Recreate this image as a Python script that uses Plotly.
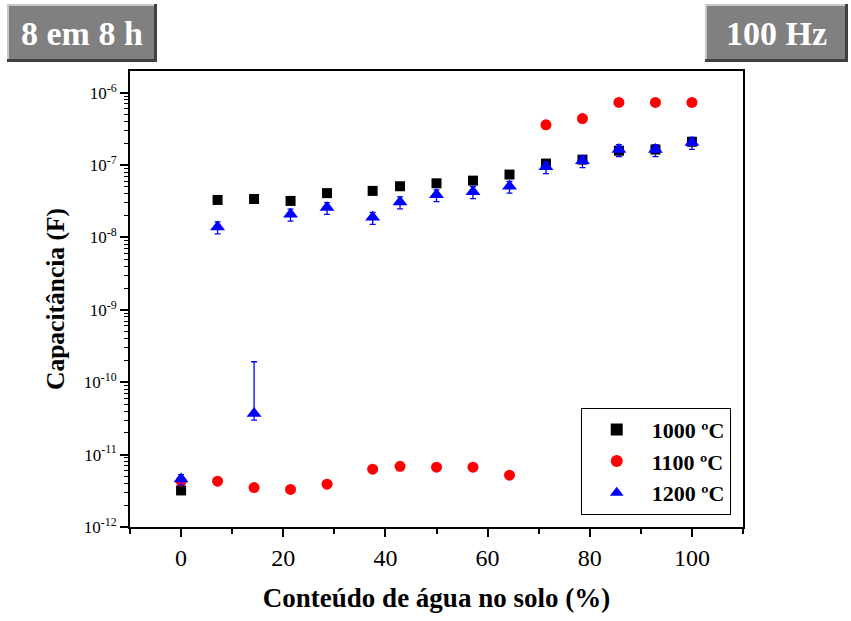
import plotly.graph_objects as go

# Soil water content (%) and measured capacitance (F) at 100 Hz
agua = [0, 7.14, 14.29, 21.43, 28.57, 37.5, 42.86, 50, 57.14, 64.29, 71.43, 78.57, 85.71, 92.86, 100]
cap_1000 = [3.2e-12, 3.3e-8, 3.4e-8, 3.2e-8, 4.1e-8, 4.4e-8, 5.1e-8, 5.6e-8, 6.1e-8, 7.4e-8,
            1.05e-7, 1.19e-7, 1.58e-7, 1.64e-7, 2.1e-7]
cap_1100 = [4.3e-12, 4.3e-12, 3.5e-12, 3.3e-12, 3.9e-12, 6.3e-12, 6.9e-12, 6.7e-12, 6.7e-12, 5.2e-12,
            3.6e-7, 4.4e-7, 7.35e-7, 7.35e-7, 7.35e-7]
cap_1200 = [4.6e-12, 1.4e-8, 3.7e-11, 2.1e-8, 2.6e-8, 1.9e-8, 3.1e-8, 3.9e-8, 4.3e-8, 5.1e-8,
            9.5e-8, 1.15e-7, 1.64e-7, 1.64e-7, 2.06e-7]
err_1200_plus = [0.7e-12, 2.4e-9, 1.55e-10, 3.6e-9, 4.4e-9, 3.2e-9, 5.3e-9, 6.6e-9, 7.3e-9, 8.7e-9,
                 1.6e-8, 2.0e-8, 2.8e-8, 2.8e-8, 3.5e-8]
err_1200_minus = [0.8e-12, 2.8e-9, 0.7e-11, 4.2e-9, 5.2e-9, 3.8e-9, 6.2e-9, 7.8e-9, 8.6e-9, 1.0e-8,
                  1.9e-8, 2.3e-8, 3.3e-8, 3.3e-8, 4.1e-8]

series_names = ["1000 ºC", "1100 ºC", "1200 ºC"]
x_ticks = [0, 20, 40, 60, 80, 100]
y_exponents = [-12, -11, -10, -9, -8, -7, -6]

FONT = "Liberation Serif"
W, H = 851, 621
L, R, T, B = 130, 108, 71, 94

fig = go.Figure()
fig.add_trace(go.Scatter(x=agua, y=cap_1000, mode="markers", name=series_names[0],
                         marker=dict(symbol="square", size=10, color="black")))
fig.add_trace(go.Scatter(x=agua, y=cap_1100, mode="markers", name=series_names[1],
                         marker=dict(symbol="circle", size=11, color="red")))
fig.add_trace(go.Scatter(x=agua, y=cap_1200, mode="markers", name=series_names[2],
                         marker=dict(symbol="triangle-up", size=13, color="blue"),
                         error_y=dict(type="data", symmetric=False, array=err_1200_plus,
                                      arrayminus=err_1200_minus, color="blue",
                                      thickness=1.3, width=3)))

axis_common = dict(showline=True, linecolor="black", linewidth=2, mirror=True,
                   ticks="outside", tickcolor="black", tickwidth=1.5, ticklen=8,
                   showgrid=False, zeroline=False)

fig.update_xaxes(range=[-10, 110], tickvals=x_ticks,
                 tickfont=dict(family=FONT, size=24, color="black"),
                 minor=dict(ticks="outside", dtick=10, tick0=0, ticklen=5,
                            tickcolor="black", tickwidth=1.5, showgrid=False),
                 title=dict(text="<b>Conteúdo de água no solo (%)</b>",
                            font=dict(family=FONT, size=27, color="black"), standoff=18),
                 **axis_common)
fig.update_yaxes(type="log", range=[-12, -5.7],
                 tickvals=[10.0 ** e for e in y_exponents],
                 ticktext=[f"10<sup>{e}</sup>" for e in y_exponents],
                 tickfont=dict(family=FONT, size=17, color="black"),
                 minor=dict(ticks="outside", dtick="D1", ticklen=4,
                            tickcolor="black", tickwidth=1.2, showgrid=False),
                 title=dict(text="<b>Capacitância (F)</b>",
                            font=dict(family=FONT, size=25.5, color="black"), standoff=12),
                 **axis_common)

fig.update_layout(
    width=W, height=H,
    margin=dict(l=L, r=R, t=T, b=B),
    paper_bgcolor="white", plot_bgcolor="white",
    legend=dict(x=0.98, y=0.027, xanchor="right", yanchor="bottom",
                bgcolor="white", bordercolor="black", borderwidth=1,
                font=dict(family=FONT, size=22, color="black"),
                itemsizing="constant", itemwidth=60),
)
# bold legend labels
for tr in fig.data:
    tr.name = f"<b>{tr.name}</b>"

# Label boxes above the plot, positioned in pixels and converted to paper units
pw, ph = W - L - R, H - T - B


def px(xp):
    return (xp - L) / pw


def py(yp):
    return (H - B - yp) / ph


def bevel_box(x0, y0, x1, y1, text):
    fig.add_shape(type="rect", xref="paper", yref="paper",
                  x0=px(x0), x1=px(x1), y0=py(y1), y1=py(y0),
                  fillcolor="#808080", line=dict(width=0), layer="above")
    # light top/left edges, dark bottom/right edges
    fig.add_shape(type="line", xref="paper", yref="paper",
                  x0=px(x0), x1=px(x1), y0=py(y0 + 1), y1=py(y0 + 1),
                  line=dict(color="#c8c8c8", width=2))
    fig.add_shape(type="line", xref="paper", yref="paper",
                  x0=px(x0 + 1), x1=px(x0 + 1), y0=py(y0), y1=py(y1),
                  line=dict(color="#c8c8c8", width=2))
    fig.add_shape(type="line", xref="paper", yref="paper",
                  x0=px(x0), x1=px(x1), y0=py(y1 - 1.5), y1=py(y1 - 1.5),
                  line=dict(color="#404040", width=3))
    fig.add_shape(type="line", xref="paper", yref="paper",
                  x0=px(x1 - 1.5), x1=px(x1 - 1.5), y0=py(y0), y1=py(y1),
                  line=dict(color="#404040", width=3))
    fig.add_annotation(xref="paper", yref="paper", x=px((x0 + x1) / 2), y=py((y0 + y1) / 2),
                       text=f"<b>{text}</b>", showarrow=False, xanchor="center", yanchor="middle",
                       font=dict(family=FONT, size=34, color="white"))


bevel_box(7, 4, 157, 62, "8 em 8 h")
bevel_box(705, 4, 848, 62, "100 Hz")

fig.write_html("out.html")
